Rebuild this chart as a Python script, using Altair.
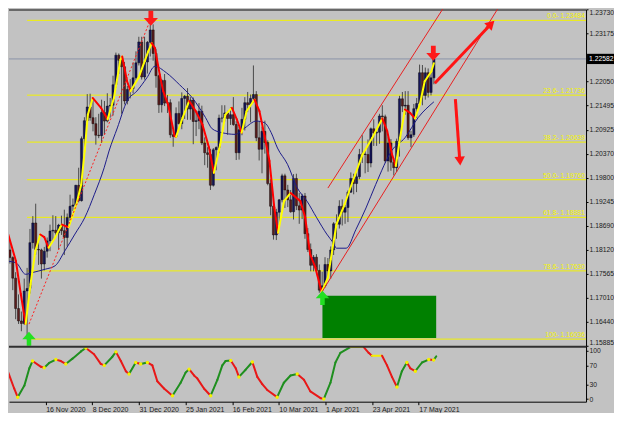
import altair as alt
import pandas as pd

# ------------------------------------------------------------------ data
first_bar = -2  # bar number of the first candle (bar 0 = 23 Oct 2020)

opens = [
    1.1826, 1.1862, 1.1817, 1.1859, 1.1812, 1.1794, 1.1746, 1.1675, 1.1646, 1.1640,
    1.1716, 1.1722, 1.1829, 1.1875, 1.1813, 1.1812, 1.1779, 1.1809, 1.1833, 1.1856,
    1.1858, 1.1852, 1.1870, 1.1857, 1.1841, 1.1888, 1.1914, 1.1917, 1.1963, 1.1927,
    1.2072, 1.2114, 1.2146, 1.2121, 1.2107, 1.2080, 1.2079, 1.2133, 1.2113, 1.2148,
    1.2150, 1.2198, 1.2267, 1.2255, 1.2240, 1.2160, 1.2187, 1.2189, 1.2214, 1.2249,
    1.2298, 1.2216, 1.2251, 1.2297, 1.2326, 1.2271, 1.2219, 1.2151, 1.2208, 1.2155,
    1.2156, 1.2081, 1.2077, 1.2131, 1.2107, 1.2166, 1.2171, 1.2141, 1.2162, 1.2112,
    1.2114, 1.2136, 1.2062, 1.2039, 1.2035, 1.1963, 1.2046, 1.2051, 1.2120, 1.2120,
    1.2132, 1.2119, 1.2128, 1.2105, 1.2039, 1.2093, 1.2117, 1.2156, 1.2151, 1.2166,
    1.2175, 1.2074, 1.2047, 1.2089, 1.2063, 1.1967, 1.1914, 1.1847, 1.1900, 1.1929,
    1.1985, 1.1952, 1.1929, 1.1901, 1.1979, 1.1915, 1.1905, 1.1938, 1.1850, 1.1813,
    1.1776, 1.1795, 1.1764, 1.1718, 1.1728, 1.1778, 1.1763, 1.1812, 1.1873, 1.1872,
    1.1914, 1.1900, 1.1911, 1.1947, 1.1979, 1.1967, 1.1983, 1.2035, 1.2036, 1.2035,
    1.2015, 1.2095, 1.2085, 1.2087, 1.2125, 1.2123, 1.2020, 1.2062, 1.2017, 1.2004,
    1.2066, 1.2165, 1.2148, 1.2150, 1.2074, 1.2081, 1.2142, 1.2154, 1.2226, 1.2173,
    1.2226, 1.2180, 1.2214,
]
highs = [
    1.1881, 1.1867, 1.1861, 1.1861, 1.1835, 1.1797, 1.1760, 1.1708, 1.1668, 1.1745,
    1.1770, 1.1861, 1.1891, 1.1920, 1.1837, 1.1815, 1.1819, 1.1841, 1.1871, 1.1893,
    1.1891, 1.1873, 1.1892, 1.1906, 1.1897, 1.1941, 1.1932, 1.1964, 1.2004, 1.2077,
    1.2122, 1.2176, 1.2177, 1.2167, 1.2122, 1.2130, 1.2163, 1.2160, 1.2178, 1.2167,
    1.2219, 1.2273, 1.2271, 1.2260, 1.2251, 1.2195, 1.2211, 1.2250, 1.2276, 1.2310,
    1.2310, 1.2310, 1.2300, 1.2349, 1.2339, 1.2282, 1.2221, 1.2211, 1.2223, 1.2174,
    1.2164, 1.2093, 1.2145, 1.2159, 1.2180, 1.2174, 1.2190, 1.2169, 1.2168, 1.2136,
    1.2155, 1.2149, 1.2075, 1.2052, 1.2048, 1.2050, 1.2054, 1.2128, 1.2150, 1.2150,
    1.2137, 1.2145, 1.2169, 1.2113, 1.2100, 1.2144, 1.2169, 1.2181, 1.2175, 1.2243,
    1.2183, 1.2113, 1.2100, 1.2114, 1.2068, 1.1977, 1.1929, 1.1908, 1.1931, 1.1990,
    1.1990, 1.1964, 1.1952, 1.1989, 1.1990, 1.1945, 1.1943, 1.1945, 1.1863, 1.1827,
    1.1800, 1.1802, 1.1778, 1.1761, 1.1795, 1.1793, 1.1820, 1.1877, 1.1895, 1.1928,
    1.1930, 1.1918, 1.1951, 1.1993, 1.1990, 1.1994, 1.2048, 1.2080, 1.2043, 1.2070,
    1.2098, 1.2117, 1.2094, 1.2130, 1.2150, 1.2128, 1.2077, 1.2071, 1.2027, 1.2072,
    1.2172, 1.2181, 1.2183, 1.2183, 1.2090, 1.2153, 1.2167, 1.2245, 1.2244, 1.2238,
    1.2236, 1.2226, 1.2265,
]
lows = [
    1.1812, 1.1795, 1.1807, 1.1803, 1.1780, 1.1718, 1.1650, 1.1639, 1.1622, 1.1637,
    1.1603, 1.1710, 1.1815, 1.1801, 1.1777, 1.1745, 1.1764, 1.1794, 1.1809, 1.1832,
    1.1844, 1.1813, 1.1847, 1.1800, 1.1820, 1.1880, 1.1903, 1.1912, 1.1923, 1.1925,
    1.2039, 1.2110, 1.2114, 1.2089, 1.2058, 1.2073, 1.2062, 1.2082, 1.2110, 1.2121,
    1.2126, 1.2191, 1.2223, 1.2130, 1.2152, 1.2152, 1.2166, 1.2178, 1.2208, 1.2243,
    1.2210, 1.2210, 1.2224, 1.2264, 1.2254, 1.2191, 1.2132, 1.2133, 1.2148, 1.2132,
    1.2074, 1.2053, 1.2076, 1.2105, 1.2094, 1.2118, 1.2116, 1.2116, 1.2059, 1.2078,
    1.2094, 1.2057, 1.2010, 1.2004, 1.1952, 1.1960, 1.1998, 1.2038, 1.2110, 1.2112,
    1.2081, 1.2104, 1.2102, 1.2022, 1.2023, 1.2080, 1.2091, 1.2134, 1.2110, 1.2155,
    1.2066, 1.2021, 1.1991, 1.2037, 1.1963, 1.1893, 1.1836, 1.1835, 1.1869, 1.1923,
    1.1910, 1.1912, 1.1899, 1.1883, 1.1905, 1.1873, 1.1884, 1.1838, 1.1807, 1.1762,
    1.1762, 1.1762, 1.1712, 1.1704, 1.1724, 1.1746, 1.1745, 1.1800, 1.1838, 1.1862,
    1.1869, 1.1873, 1.1877, 1.1945, 1.1942, 1.1947, 1.1977, 1.2015, 1.1991, 1.1994,
    1.2005, 1.2055, 1.2055, 1.2060, 1.2089, 1.2016, 1.1995, 1.1997, 1.1986, 1.1994,
    1.2030, 1.2134, 1.2128, 1.2069, 1.2052, 1.2076, 1.2120, 1.2149, 1.2150, 1.2163,
    1.2168, 1.2173, 1.2199,
]
closes = [
    1.1862, 1.1817, 1.1859, 1.1812, 1.1794, 1.1746, 1.1675, 1.1646, 1.1640, 1.1716,
    1.1722, 1.1829, 1.1875, 1.1813, 1.1812, 1.1779, 1.1809, 1.1833, 1.1856, 1.1858,
    1.1852, 1.1870, 1.1857, 1.1841, 1.1888, 1.1914, 1.1917, 1.1963, 1.1927, 1.2072,
    1.2114, 1.2146, 1.2121, 1.2107, 1.2080, 1.2079, 1.2133, 1.2113, 1.2148, 1.2150,
    1.2198, 1.2267, 1.2255, 1.2240, 1.2160, 1.2187, 1.2189, 1.2214, 1.2249, 1.2298,
    1.2216, 1.2251, 1.2297, 1.2326, 1.2271, 1.2219, 1.2151, 1.2208, 1.2155, 1.2156,
    1.2081, 1.2077, 1.2131, 1.2107, 1.2166, 1.2171, 1.2141, 1.2162, 1.2112, 1.2114,
    1.2136, 1.2062, 1.2039, 1.2035, 1.1963, 1.2046, 1.2051, 1.2120, 1.2120, 1.2132,
    1.2119, 1.2128, 1.2105, 1.2039, 1.2093, 1.2117, 1.2156, 1.2151, 1.2166, 1.2175,
    1.2074, 1.2047, 1.2089, 1.2063, 1.1967, 1.1914, 1.1847, 1.1900, 1.1929, 1.1985,
    1.1952, 1.1929, 1.1901, 1.1979, 1.1915, 1.1905, 1.1938, 1.1850, 1.1813, 1.1776,
    1.1795, 1.1764, 1.1718, 1.1728, 1.1778, 1.1763, 1.1812, 1.1873, 1.1872, 1.1914,
    1.1900, 1.1911, 1.1947, 1.1979, 1.1967, 1.1983, 1.2035, 1.2036, 1.2035, 1.2015,
    1.2095, 1.2085, 1.2087, 1.2125, 1.2123, 1.2020, 1.2062, 1.2017, 1.2004, 1.2066,
    1.2165, 1.2148, 1.2150, 1.2074, 1.2081, 1.2142, 1.2154, 1.2226, 1.2173, 1.2226,
    1.2180, 1.2214, 1.2258,
]

# fast (yellow/red) moving line
fast_bar = [1.0, 4.1, 5.8, 7.5, 9.2, 10.9, 12.6, 14.0, 15.5, 17.8, 19.5, 20.2, 21.6, 22.5,
            23.8, 25.2, 26.9, 28.1, 29.2, 30.9, 33.8, 36.1, 38.3, 40.6, 41.2, 42.9, 44.1,
            46.9, 50.3, 51.5, 52.6, 54.3, 55.5, 57.2, 59.5, 60.0, 62.3, 64.6, 66.9, 69.2,
            71.5, 73.2, 75.4, 77.2, 79.5, 81.2, 82.9, 84.6, 87.4, 89.1, 90.9, 92.6, 94.3,
            95.6, 97.7, 100.0, 103.4, 105.1, 106.8, 108.6, 110.8, 113.0, 114.0, 116.0,
            118.8, 121.7, 125.1, 128.5, 132.0, 133.7, 135.4, 136.7, 138.2, 139.9, 141.7,
            143.4, 145.1, 146.8, 149.1, 150.0]
fast_val = [1.1858, 1.1786, 1.1709, 1.1639, 1.1732, 1.1810, 1.1848, 1.1842, 1.1817, 1.1841,
            1.1864, 1.1871, 1.1867, 1.1865, 1.1891, 1.1918, 1.1965, 1.2043, 1.2128, 1.2167,
            1.2144, 1.2117, 1.2167, 1.2257, 1.2264, 1.2206, 1.2183, 1.2214, 1.2276, 1.2295,
            1.2284, 1.2222, 1.2183, 1.2152, 1.2078, 1.2076, 1.2121, 1.2160, 1.2136, 1.2105,
            1.2051, 1.1992, 1.2058, 1.2128, 1.2144, 1.2117, 1.2086, 1.2136, 1.2163, 1.2136,
            1.2078, 1.2020, 1.1911, 1.1852, 1.1926, 1.1945, 1.1926, 1.1887, 1.1802, 1.1771,
            1.1714, 1.1747, 1.1790, 1.1872, 1.1918, 1.1973, 1.2035, 1.2074, 1.2119, 1.2090,
            1.2035, 1.2008, 1.2074, 1.2140, 1.2132, 1.2119, 1.2152, 1.2206, 1.2229, 1.2248]

# slow (navy) moving average
slow_bar = [0.7, 4.1, 7.5, 9.8, 14.4, 17.8, 21.2, 24.7, 28.1, 31.5, 34.9, 36.6, 39.5, 42.9,
            46.3, 49.8, 52.6, 56.6, 61.2, 65.7, 70.3, 72.6, 76.0, 80.6, 84.0, 88.0, 90.9,
            93.2, 95.4, 98.9, 102.3, 105.7, 109.1, 112.6, 114.8, 116.0, 119.4, 122.8,
            126.3, 129.7, 135.4, 139.9, 144.5, 150.0]
slow_val = [1.1786, 1.1782, 1.1755, 1.1759, 1.1767, 1.1775, 1.1810, 1.1849, 1.1887, 1.1942,
            1.2004, 1.2043, 1.2097, 1.2160, 1.2183, 1.2214, 1.2241, 1.2226, 1.2198, 1.2167,
            1.2121, 1.2095, 1.2086, 1.2082, 1.2097, 1.2113, 1.2109, 1.2086, 1.2050, 1.2012,
            1.1957, 1.1926, 1.1887, 1.1849, 1.1829, 1.1816, 1.1816, 1.1860, 1.1910, 1.1965,
            1.2045, 1.2074, 1.2121, 1.2158]

# oscillator (lower panel)
osc_bar = [0.7, 3.0, 5.2, 6.4, 8.7, 10.4, 11.5, 14.4, 15.5, 17.2, 19.5, 21.2, 22.9, 25.2,
           28.1, 29.8, 32.6, 34.9, 36.1, 38.9, 40.1, 41.8, 43.5, 44.6, 46.9, 48.6, 50.9,
           52.6, 54.3, 56.6, 59.5, 62.3, 64.0, 65.2, 66.9, 68.0, 70.3, 72.6, 74.9, 76.6,
           77.7, 79.5, 81.2, 82.3, 84.6, 86.9, 88.6, 90.3, 92.0, 95.4, 97.7, 100.0, 102.3,
           104.6, 106.8, 110.3, 111.4, 113.7, 115.4, 117.1, 120.5, 125.1, 126.8, 127.9,
           131.4, 133.1, 134.8, 136.5, 138.2, 139.9, 141.1, 142.8, 145.1, 147.4, 149.1, 150.0]
osc_val = [79, 58, 22, 4, 28, 64, 79, 67, 65, 75, 82, 79, 73, 84,
           99, 106, 93, 73, 70, 88, 98, 79, 58, 52, 76, 73, 76,
           70, 37, 22, 7, 34, 55, 62, 49, 43, 22, 7, 40, 70,
           79, 80, 64, 46, 61, 77, 46, 31, 19, 4, 34, 49, 52,
           40, 16, 2, 0, 34, 76, 96, 108, 108, 96, 90,
           90, 70, 46, 25, 58, 76, 64, 58, 76, 82, 81, 89]

tick_bars = [16, 32, 48, 64, 80, 96, 112, 128, 144]
tick_labels = ["16 Nov 2020", "8 Dec 2020", "31 Dec 2020", "25 Jan 2021", "16 Feb 2021",
               "10 Mar 2021", "1 Apr 2021", "23 Apr 2021", "17 May 2021"]
price_ticks = [1.23730, 1.23175, 1.22050, 1.21495, 1.20925, 1.20370, 1.19800, 1.19245,
               1.18690, 1.18120, 1.17565, 1.17010, 1.16440, 1.15885]
osc_ticks = [0, 30, 70, 100]
current_price = 1.22582

fib_pct = ["0.0", "23.6", "38.2", "50.0", "61.8", "78.6", "100"]
fib_price = [1.23484, 1.21736, 1.20639, 1.19760, 1.18881, 1.17630, 1.16036]
fib_start_bar = 8

trend_bar = [8.66, 51.37]
trend_price = [1.16386, 1.23554]
channel_bar = [113.0, 110.8]
channel_price = [1.19565, 1.17123]
channel_bar2 = [154.8, 173.9]
channel_price2 = [1.23927, 1.23927]

zone_bar = [111.1, 150.8]
zone_price = [1.17046, 1.16059]

big_arrow_bar = [150.3, 157.5]
big_arrow_price = [1.22014, 1.21641]
big_arrow_bar2 = [169.3, 159.0]
big_arrow_price2 = [1.23351, 1.20242]
head_bar = [170.0, 159.1]
head_price = [1.23402, 1.20195]
head_angle = [45, 176]

sell_bar = [51.2, 149.8]
sell_price = [1.23531, 1.22714]
buy_bar = [8.66, 111.1]
buy_price = [1.16043, 1.17000]

# ------------------------------------------------------------------ layout / style
W = 578
H_MAIN = 337
H_OSC = 56
BG = "#c2c2c2"
FONT = "Liberation Sans"

xs = alt.Scale(domain=[3.425, 201.37], nice=False, zero=False)
ys = alt.Scale(domain=[1.15880, 1.23741], nice=False, zero=False)
oys = alt.Scale(domain=[-5.4, 110.7], nice=False, zero=False)

bars = list(range(first_bar, first_bar + len(closes)))
candles = pd.DataFrame({"bar": bars, "open": opens, "high": highs, "low": lows, "close": closes})
candles["col"] = ["#14145a" if c >= o else "#5a1c1c" for o, c in zip(opens, closes)]


def segments(xv, yv, eps, up, down, flat):
    rows = []
    for i in range(len(xv) - 1):
        d = yv[i + 1] - yv[i]
        c = up if d > eps else (down if d < -eps else flat)
        rows.append(dict(x=xv[i], y=yv[i], x2=xv[i + 1], y2=yv[i + 1], col=c))
    return pd.DataFrame(rows)


fast_seg = segments(fast_bar, fast_val, 0.0, "#ffff00", "#ff0000", "#ffff00")
osc_seg = segments(osc_bar, osc_val, 0.5, "#1f8f1f", "#e81818", "#f4f000")
turns = []
for i in range(1, len(osc_val) - 1):
    a = osc_val[i] - osc_val[i - 1]
    b = osc_val[i + 1] - osc_val[i]
    if (a > 0 and b < 0) or (a < 0 and b > 0):
        turns.append(dict(x=osc_bar[i], y=osc_val[i]))
turns = pd.DataFrame(turns)

one = pd.DataFrame({"a": [0]})

y_axis_main = alt.Axis(
    orient="right", values=price_ticks, format=".5f", title=None, grid=False,
    tickSize=2, tickColor="black", domainColor="black", labelColor="#1a1a1a",
    labelFontSize=6.8, labelPadding=1, labelOverlap=False, labelFlush=False,
    labelBaseline={"condition": [{"test": "datum.value > 1.2370", "value": "top"},
                                 {"test": "datum.value < 1.1590", "value": "bottom"}],
                   "value": "middle"},
)

X = lambda f: alt.X(f, type="quantitative", scale=xs, axis=None)
Y = lambda f: alt.Y(f, type="quantitative", scale=ys, axis=y_axis_main)
COL = alt.Color("col:N", scale=None)

top_border = alt.Chart(one).mark_rule(color="#4a4a4a", strokeWidth=1.5).encode(
    x=alt.value(0), x2=alt.value(W), y=alt.value(0.75))

fib_df = pd.DataFrame({"bar": [fib_start_bar] * len(fib_price), "price": fib_price,
                       "label": [f"{p}- {v:.5f}" for p, v in zip(fib_pct, fib_price)]})
fib_lines = alt.Chart(fib_df).mark_rule(color="#f2f200", strokeWidth=1).encode(
    x=X("bar"), x2=alt.value(W), y=Y("price"))
fib_text = alt.Chart(fib_df).mark_text(
    align="right", baseline="bottom", dy=-1, fontSize=6.8, font=FONT, color="#f5f500"
).encode(x=alt.value(W - 1), y=Y("price"), text="label:N")

cur_df = pd.DataFrame({"price": [current_price], "label": [f"{current_price:.5f}"]})
cur_line = alt.Chart(cur_df).mark_rule(color="#8a93a8", strokeWidth=1).encode(
    x=alt.value(0), x2=alt.value(W), y=Y("price"))
cur_box = alt.Chart(cur_df).mark_point(
    shape="M-1,-0.38 L1,-0.38 L1,0.38 L-1,0.38 Z", filled=True, color="black",
    size=729, opacity=1, strokeWidth=0).encode(x=alt.value(W + 14.5), y=Y("price"))
cur_text = alt.Chart(cur_df).mark_text(
    align="left", baseline="middle", fontSize=6.8, font=FONT, color="white"
).encode(x=alt.value(W + 3), y=Y("price"), text="label:N")

zone_df = pd.DataFrame({"b0": [zone_bar[0]], "b1": [zone_bar[1]],
                        "p0": [zone_price[0]], "p1": [zone_price[1]]})
zone = alt.Chart(zone_df).mark_rect(color="#008000", opacity=1).encode(
    x=X("b0"), x2="b1", y=Y("p0"), y2="p1")

wicks = alt.Chart(candles).mark_rule(color="#4a4a4a", strokeWidth=1, clip=True).encode(
    x=X("bar"), y=Y("low"), y2="high")
bodies = alt.Chart(candles).mark_bar(size=2.2, stroke="#000000", strokeWidth=0.4, clip=True).encode(
    x=X("bar"), y=Y("open"), y2="close", color=COL)

slow_df = pd.DataFrame({"bar": slow_bar, "v": slow_val})
slow_line = alt.Chart(slow_df).mark_line(color="#1c1c8a", strokeWidth=1, interpolate="monotone",
                                         clip=True).encode(x=X("bar"), y=Y("v"))

fast_line = alt.Chart(fast_seg).mark_rule(strokeWidth=2, strokeCap="round", clip=True).encode(
    x=X("x"), x2="x2", y=Y("y"), y2="y2", color=COL)

trend_df = pd.DataFrame({"b0": [trend_bar[0]], "b1": [trend_bar[1]],
                         "p0": [trend_price[0]], "p1": [trend_price[1]]})
trend = alt.Chart(trend_df).mark_rule(color="#ff2020", strokeWidth=1, strokeDash=[2, 2],
                                      clip=True).encode(
    x=X("b0"), x2="b1", y=Y("p0"), y2="p1")

chan_df = pd.DataFrame({"b0": channel_bar, "p0": channel_price, "b1": channel_bar2, "p1": channel_price2})
channel = alt.Chart(chan_df).mark_rule(color="#e82020", strokeWidth=1, clip=True).encode(
    x=X("b0"), x2="b1", y=Y("p0"), y2="p1")

shaft_df = pd.DataFrame({"b0": big_arrow_bar, "p0": big_arrow_price,
                         "b1": big_arrow_bar2, "p1": big_arrow_price2})
shafts = alt.Chart(shaft_df).mark_rule(color="#ff1414", strokeWidth=3).encode(
    x=X("b0"), x2="b1", y=Y("p0"), y2="p1")
head_df = pd.DataFrame({"bar": head_bar, "price": head_price, "ang": head_angle})
heads = alt.Chart(head_df).mark_point(shape="triangle-up", filled=True, size=110, color="#ff1414",
                                      opacity=1, strokeWidth=0).encode(
    x=X("bar"), y=Y("price"), angle=alt.Angle("ang:Q", scale=None))

DOWN = "M-0.32,-1 L0.32,-1 L0.32,-0.05 L0.95,-0.05 L0,1 L-0.95,-0.05 L-0.32,-0.05 Z"
UP = "M-0.32,1 L0.32,1 L0.32,0.05 L0.95,0.05 L0,-1 L-0.95,0.05 L-0.32,0.05 Z"
sell = alt.Chart(pd.DataFrame({"bar": sell_bar, "price": sell_price})).mark_point(
    shape=DOWN, filled=True, size=225, color="#ff1a1a", opacity=1, strokeWidth=0).encode(
    x=X("bar"), y=Y("price"))
buy = alt.Chart(pd.DataFrame({"bar": buy_bar, "price": buy_price})).mark_point(
    shape=UP, filled=True, size=200, color="#22e022", opacity=1, strokeWidth=0).encode(
    x=X("bar"), y=Y("price"))

main = alt.layer(
    fib_lines, top_border, cur_line, zone, wicks, bodies, slow_line, fast_line, trend,
    channel, shafts, heads, sell, buy, fib_text, cur_box, cur_text,
).properties(width=W, height=H_MAIN)

# ------------------------------------------------------------------ oscillator panel
lbl_arr = "[" + ",".join(f"'{t}'" for t in tick_labels) + "]"
val_arr = "[" + ",".join(str(b) for b in tick_bars) + "]"
x_axis_osc = alt.Axis(
    orient="bottom", values=tick_bars, labelExpr=f"{lbl_arr}[indexof({val_arr}, datum.value)]",
    title=None, grid=False, labelAlign="left", labelPadding=1, tickSize=3, tickColor="black",
    domainColor="black", labelColor="#1a1a1a", labelFontSize=7, labelFlush=False,
    labelOverlap=False, labelOffset=0)
y_axis_osc = alt.Axis(
    orient="right", values=osc_ticks, format="d", title=None, grid=False, tickSize=2,
    tickColor="black", domainColor="black", labelColor="#1a1a1a", labelFontSize=6.8,
    labelPadding=1, labelOverlap=False, labelFlush=False)

OX = lambda f: alt.X(f, type="quantitative", scale=xs, axis=x_axis_osc)
OY = lambda f: alt.Y(f, type="quantitative", scale=oys, axis=y_axis_osc)

osc_line = alt.Chart(osc_seg).mark_rule(strokeWidth=2, strokeCap="round", clip=True).encode(
    x=OX("x"), x2="x2", y=OY("y"), y2="y2", color=COL)
osc_turns = alt.Chart(turns).mark_circle(size=12, color="#f4f000", opacity=1, clip=True).encode(
    x=OX("x"), y=OY("y"))
osc_top = alt.Chart(one).mark_rule(color="#303030", strokeWidth=2).encode(
    x=alt.value(0), x2=alt.value(W), y=alt.value(1))

osc = alt.layer(osc_line, osc_turns, osc_top).properties(width=W, height=H_OSC)

chart = alt.vconcat(main, osc, spacing=0, bounds="flush").properties(
    padding=0, background=BG
).configure_view(stroke=None).configure_axis(labelFont=FONT, labelOverlap=False)

chart.save("out.html", embed_options={"renderer": "svg", "actions": False})
